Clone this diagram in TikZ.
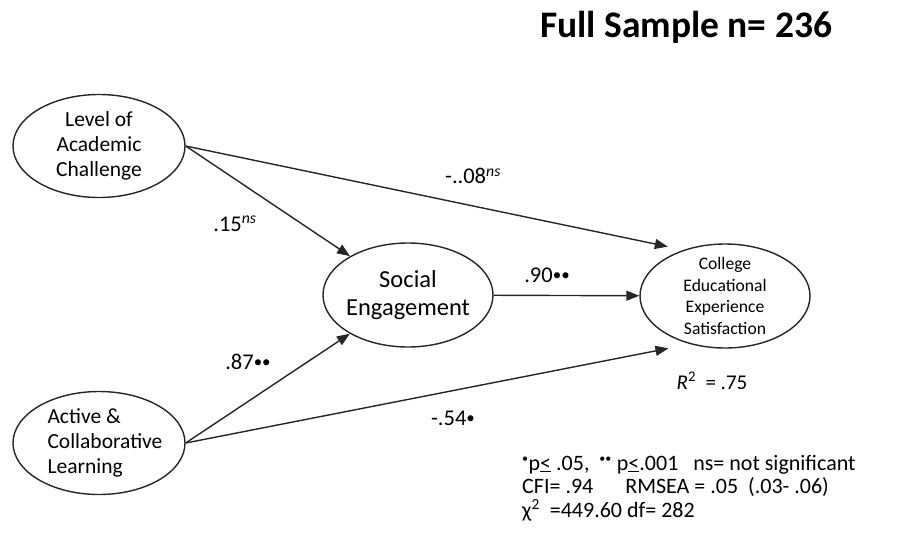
\documentclass[tikz,border=0pt]{standalone}
\usepackage{fontspec}
\setmainfont{Carlito}
\usetikzlibrary{shapes.geometric,arrows.meta}
% small raised dot used as a significance mark
\newcommand\sigdot{\raisebox{2pt}{\fontsize{17}{17}\selectfont•}}

\begin{document}
\begin{tikzpicture}[x=1pt,y=-1pt,
  latent/.style={ellipse, draw=black!85, line width=1.4pt, inner sep=0pt,
    minimum width=172pt, minimum height=103pt},
  inner/.style={inner sep=0pt, align=center},
  effect/.style={line width=1.4pt, draw=black!85,
    -{Triangle[length=13pt,width=10pt]}},
  coef/.style={inner sep=0pt, font=\fontsize{22.5}{25}\selectfont},
  big/.style={font=\fontsize{21.5}{25}\selectfont},
  mid/.style={font=\fontsize{24.5}{28}\selectfont},
  small/.style={font=\fontsize{17.6}{21.7}\selectfont}]
\useasboundingbox (0,0) rectangle (912,538);

% title
\node[inner sep=0pt, font=\fontsize{37.5}{40}\selectfont\bfseries] (title) at (686,27) {Full Sample n= 236};

% latent variables
\node[latent, label={[inner, big]center:Level of\\Academic\\Challenge}] (lac) at (99,146) {};
\node[latent, label={[inner, big, align=left, xshift=6pt]center:Active \&\\Collaborative\\Learning}] (alc) at (99,443) {};
\node[latent, minimum width=170pt, minimum height=104pt,
      label={[inner, mid]center:Social\\Engagement}] (se) at (408,295) {};
\node[latent, minimum width=170pt, minimum height=104pt,
      label={[inner, small]center:College\\Educational\\Experience\\Satisfaction}] (ces) at (725,296) {};

% structural paths
\draw[effect] (lac.east) -- (se);
\draw[effect, shorten >=16pt] (lac.east) -- (ces.132);
\draw[effect] (se) -- (ces);
\draw[effect] (alc.east) -- (se);
\draw[effect, shorten >=22pt] (alc.east) -- (ces.234);

% path coefficients
\node[coef] (c1) at (235,224) {.15\textsuperscript{\textit{ns}}};
\node[coef] (c2) at (473,176) {-..08\textsuperscript{\textit{ns}}};
\node[coef] (c3) at (547,275) {.90\sigdot\sigdot};
\node[coef] (c4) at (248,362) {.87\sigdot\sigdot};
\node[coef] (c5) at (453,418) {-.54\sigdot};
\node[coef, font=\fontsize{21}{25}\selectfont] (r2) at (712,381) {\textit{R}\textsuperscript{2}\ \ = .75};

% notes on significance and fit
\node[inner sep=0pt, anchor=west, align=left, font=\fontsize{22}{23.5}\selectfont] (notes) at (522,488)
  {\textsuperscript{\large•}p\underline{<} .05,\ \ \textsuperscript{\large••} p\underline{<}.001\ \ \ ns= not significant\\
   CFI= .94\hspace{32pt}RMSEA = .05\ \ (.03- .06)\\
   χ\textsuperscript{2}\ \ =449.60 df= 282};
\end{tikzpicture}
\end{document}
